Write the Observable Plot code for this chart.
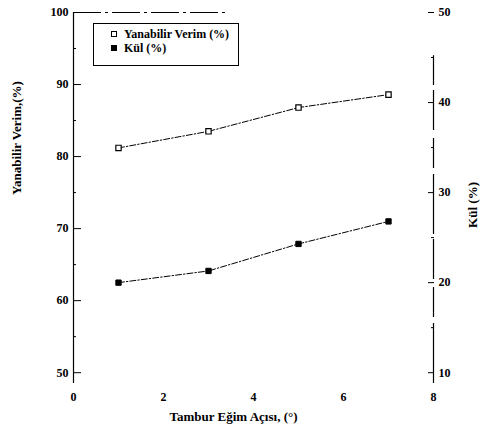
<!DOCTYPE html>
<html>
<head>
<meta charset="utf-8">
<script src="https://cdn.jsdelivr.net/npm/d3@7"></script>
<script src="https://cdn.jsdelivr.net/npm/@observablehq/plot@0.6"></script>
<style>
  html, body { margin: 0; padding: 0; background: #fff; }
  #wrap { position: relative; width: 484px; height: 430px; font-family: "Liberation Serif", serif; }
  #legend { position: absolute; left: 93px; top: 23px; width: 146px; height: 43px; border: 1.5px solid #000; background: #fff;
            font-size: 12px; font-weight: bold; color: #000; box-sizing: border-box; padding: 3px 0 0 17px; line-height: 14px; }
  #legend .row { display: flex; align-items: center; white-space: nowrap; }
  #legend .sym { display: inline-block; width: 4px; height: 4px; border: 1.2px solid #000; margin-right: 7px; }
</style>
</head>
<body>
<div id="wrap"></div>
<script>
// ---- data ----
const angles = [1, 3, 5, 7];
const verim = [81.2, 83.5, 86.8, 88.6];   // Yanabilir Verim (%) – left axis
const kul = [20.0, 21.3, 24.3, 26.8];     // Kül (%) – right axis
const xTicks = [0, 2, 4, 6, 8];
const leftTicks = [50, 60, 70, 80, 90, 100];
const leftMinor = [55, 65, 75, 85, 95];
const rightTicks = [10, 20, 30, 40, 50];
const rightMinor = [15, 25, 35, 45];
const seriesNames = ["Yanabilir Verim (%)", "Kül (%)"];
const xTitle = "Tambur Eğim Açısı, (°)";
const yTitle = "Yanabilir Verim,(%)";
const y2Title = "Kül (%)";

// right axis (10..50) mapped onto left scale (50..100)
const toLeft = k => 50 + (k - 10) * 1.25;
const fromLeft = v => Math.round((v - 50) / 1.25 + 10);
const yMin = 48.5;

const verimData = angles.map((a, i) => ({x: a, y: verim[i]}));
const kulData = angles.map((a, i) => ({x: a, y: toLeft(kul[i])}));

const chart = Plot.plot({
  width: 484,
  height: 430,
  marginLeft: 73,
  marginRight: 51,
  marginTop: 12,
  marginBottom: 47,
  style: {fontFamily: "Liberation Serif, serif", fontSize: "12px", fontWeight: "bold", background: "#fff", color: "#000"},
  x: {domain: [0, 8]},
  y: {domain: [yMin, 100]},
  marks: [
    // frame pieces
    Plot.ruleX([0], {y1: yMin, y2: 100, stroke: "#000", strokeWidth: 1.2}),
    Plot.ruleX([8], {y1: yMin, y2: 94, stroke: "#000", strokeWidth: 1.2, strokeDasharray: "60,6,30,8,40,5"}),
    Plot.ruleY([100], {x1: 0, x2: 3.4, stroke: "#000", strokeWidth: 1, strokeDasharray: "28,4,3,4"}),
    // axes
    Plot.axisY(leftTicks, {anchor: "left", tickSize: -8, tickPadding: 13, label: null, fontSize: 12}),
    Plot.axisY(leftMinor, {anchor: "left", tickSize: -3, tickPadding: 0, tickFormat: () => "", label: null}),
    Plot.axisY(rightTicks.map(toLeft), {anchor: "right", tickSize: -6, tickPadding: 11, tickFormat: fromLeft, label: null, fontSize: 12}),
    Plot.axisY(rightMinor.map(toLeft), {anchor: "right", tickSize: -3, tickPadding: 0, tickFormat: () => "", label: null}),
    Plot.axisX(xTicks, {anchor: "bottom", tickSize: 0, tickPadding: 9, label: null, fontSize: 12}),
    // titles
    Plot.text([xTitle], {frameAnchor: "bottom", dx: -20, dy: 37, fontSize: 13, fontWeight: "bold"}),
    Plot.text([yTitle], {frameAnchor: "left", rotate: -90, dx: -57, dy: -3, fontSize: 13, fontWeight: "bold"}),
    Plot.text([y2Title], {frameAnchor: "right", rotate: -90, dx: 39, dy: -16, fontSize: 13, fontWeight: "bold"}),
    // series
    Plot.line(verimData, {x: "x", y: "y", stroke: "#000", strokeWidth: 1, strokeDasharray: "6,2,1.5,2"}),
    Plot.line(kulData, {x: "x", y: "y", stroke: "#000", strokeWidth: 1, strokeDasharray: "6,2,1.5,2"}),
    Plot.dot(verimData, {x: "x", y: "y", symbol: "square", r: 3, stroke: "#000", fill: "#fff", strokeWidth: 1.2}),
    Plot.dot(kulData, {x: "x", y: "y", symbol: "square", r: 3, stroke: "#000", fill: "#000", strokeWidth: 1})
  ]
});

const wrap = document.getElementById("wrap");
wrap.appendChild(chart);
const legend = document.createElement("div");
legend.id = "legend";
legend.innerHTML = `
  <div class="row"><span class="sym" style="background:#fff"></span>${seriesNames[0]}</div>
  <div class="row"><span class="sym" style="background:#000"></span>${seriesNames[1]}</div>`;
wrap.appendChild(legend);
</script>
</body>
</html>
